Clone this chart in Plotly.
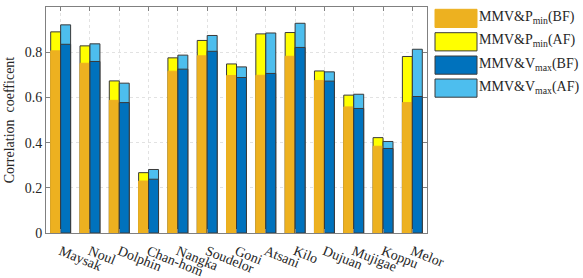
import plotly.graph_objects as go

typhoons = ["Maysak", "Noul", "Dolphin", "Chan-hom", "Nangka", "Soudelor", "Goni",
            "Atsani", "Kilo", "Dujuan", "Mujigae", "Koppu", "Melor"]
pmin_bf = [0.806, 0.751, 0.587, 0.230, 0.716, 0.784, 0.697, 0.698, 0.782, 0.675, 0.558, 0.384, 0.577]
pmin_af = [0.890, 0.828, 0.673, 0.267, 0.775, 0.852, 0.748, 0.881, 0.887, 0.717, 0.610, 0.422, 0.781]
vmax_bf = [0.835, 0.759, 0.577, 0.238, 0.725, 0.804, 0.688, 0.706, 0.821, 0.672, 0.551, 0.374, 0.604]
vmax_af = [0.921, 0.837, 0.663, 0.281, 0.787, 0.874, 0.735, 0.885, 0.928, 0.713, 0.614, 0.405, 0.813]
yticks = [0, 0.2, 0.4, 0.6, 0.8, 1]
ytick_text = ["0", "0.2", "0.4", "0.6", "0.8", "1"]

ORANGE = "#EDB120"
YELLOW = "#FFFF00"
DBLUE = "#0072BD"
LBLUE = "#4DBEEE"
EDGE = "#3a3a3a"
FONT = "Times New Roman, Liberation Serif, serif"

x = list(range(len(typhoons)))
W = 0.34
fig = go.Figure()
fig.add_bar(x=x, y=pmin_af, width=W, offset=-W, marker=dict(color=YELLOW, line=dict(color=EDGE, width=1)), opacity=1, name="MMV&P<sub>min</sub>(AF)")
fig.add_bar(x=x, y=pmin_bf, width=W, offset=-W, marker=dict(color=ORANGE, line=dict(color=ORANGE, width=1)), opacity=1, name="MMV&P<sub>min</sub>(BF)")
fig.add_bar(x=x, y=vmax_af, width=W, offset=0, marker=dict(color=LBLUE, line=dict(color=EDGE, width=1)), opacity=1, name="MMV&V<sub>max</sub>(AF)")
fig.add_bar(x=x, y=vmax_bf, width=W, offset=0, marker=dict(color=DBLUE, line=dict(color=EDGE, width=1)), opacity=1, name="MMV&V<sub>max</sub>(BF)")

axcol = "#808080"
fig.update_layout(
    width=583, height=278, barmode="overlay", showlegend=False,
    margin=dict(l=46, r=156, t=7, b=45),
    plot_bgcolor="white", paper_bgcolor="white",
    font=dict(family=FONT, size=14, color="#262626"),
    xaxis=dict(range=[-0.5, 12.5], tickmode="array", tickvals=x, ticktext=typhoons,
               tickangle=22, ticks="inside", ticklen=4, tickcolor=axcol, mirror="ticks",
               ticklabelstandoff=4,
               showline=True, linecolor=axcol, linewidth=1, automargin=False,
               showgrid=True, gridcolor="#e2e2e2", griddash="dot", gridwidth=1,
               tickfont=dict(family=FONT, size=14, color="#262626")),
    yaxis=dict(range=[0, 1], tickmode="array", tickvals=yticks, ticktext=ytick_text,
               ticks="inside", ticklen=4, tickcolor=axcol, mirror="ticks",
               showline=True, linecolor=axcol, linewidth=1, automargin=False,
               showgrid=True, gridcolor="#e2e2e2", griddash="dot", gridwidth=1,
               zeroline=False,
               title=dict(text="Correlation  coefficent", font=dict(family=FONT, size=14), standoff=6),
               tickfont=dict(family=FONT, size=14, color="#262626")),
)

# custom legend (large swatches)
legend_items = [
    ("MMV&P<sub>min</sub>(BF)", ORANGE, ORANGE),
    ("MMV&P<sub>min</sub>(AF)", YELLOW, EDGE),
    ("MMV&V<sub>max</sub>(BF)", DBLUE, EDGE),
    ("MMV&V<sub>max</sub>(AF)", LBLUE, EDGE),
]
tops = [9.3, 32.7, 56, 79]
h = 18.2
def py2y(py):
    return (233 - py) / 226
def px2x(px):
    return (px - 46) / 381
for (label, fc, lc), t in zip(legend_items, tops):
    fig.add_shape(type="rect", xref="paper", yref="paper",
                  x0=px2x(435), x1=px2x(477), y0=py2y(t + h), y1=py2y(t),
                  fillcolor=fc, line=dict(color=lc, width=1))
    fig.add_annotation(xref="paper", yref="paper", x=px2x(477), y=py2y(t + h / 2 - 1),
                       text=label, showarrow=False, xanchor="left", yanchor="middle",
                       font=dict(family=FONT, size=14, color="#262626"))

fig.write_html("out.html", config={"displayModeBar": False},
               post_script="document.body.style.margin='0';")
